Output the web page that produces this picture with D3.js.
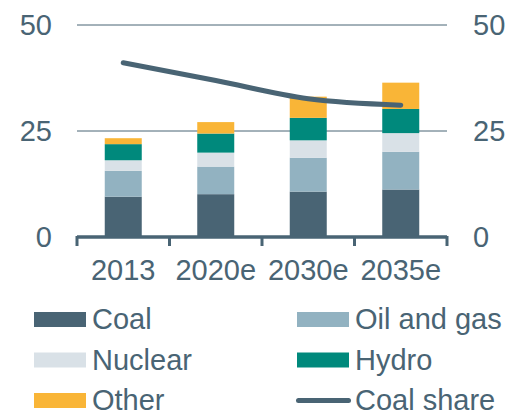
<!DOCTYPE html>
<html><head><meta charset="utf-8">
<script src="https://cdn.jsdelivr.net/npm/d3@7"></script>
<style>
html,body{margin:0;padding:0;background:#fff;}
svg{display:block;font-family:"Liberation Sans",Arial,sans-serif;}
</style></head>
<body>
<svg id="chart" width="505" height="414"></svg>
<script>
const categories = ["2013", "2020e", "2030e", "2035e"];
const coal = [9.5, 10.1, 10.7, 11.2];
const oilGas = [6.1, 6.5, 8.0, 8.9];
const nuclear = [2.5, 3.3, 4.1, 4.4];
const hydro = [3.8, 4.5, 5.3, 5.7];
const other = [1.4, 2.7, 5.0, 6.2];
const coalShare = [41.1, 36.9, 32.6, 31.1];
const yTicks = [0, 25, 50];
const seriesNames = ["Coal", "Oil and gas", "Nuclear", "Hydro", "Other"];

const colors = {"Coal":"#496474","Oil and gas":"#92b2c1","Nuclear":"#d9e1e7","Hydro":"#00897c","Other":"#f9b537"};
const dark = "#496474";

const svg = d3.select("#chart");
const x = d3.scaleBand().domain(categories).range([77, 447]).paddingInner(0.6).paddingOuter(0.3);
const y = d3.scaleLinear().domain([0, 50]).range([237, 25]);

const rows = categories.map((c, i) => ({cat: c, "Coal": coal[i], "Oil and gas": oilGas[i], "Nuclear": nuclear[i], "Hydro": hydro[i], "Other": other[i]}));
const stacked = d3.stack().keys(seriesNames)(rows);

// gridlines
svg.append("g").selectAll("line").data(yTicks.filter(t => t > 0)).join("line")
  .attr("x1", 77).attr("x2", 447).attr("y1", d => y(d)).attr("y2", d => y(d))
  .attr("stroke", dark).attr("stroke-width", 1);

// bars
svg.append("g").selectAll("g").data(stacked).join("g")
  .attr("fill", d => colors[d.key])
  .selectAll("rect").data(d => d).join("rect")
  .attr("x", d => x(d.data.cat)).attr("width", x.bandwidth())
  .attr("y", d => y(d[1])).attr("height", d => y(d[0]) - y(d[1]));

// x axis
const xAxis = svg.append("g");
xAxis.append("line").attr("x1", 77).attr("x2", 447).attr("y1", 237).attr("y2", 237)
  .attr("stroke", dark).attr("stroke-width", 3.5);
const tickX = [x.range()[0]].concat(categories.map(c => x(c) + x.bandwidth() + x.step() * x.paddingInner() / 2));
tickX[tickX.length - 1] = x.range()[1];
xAxis.selectAll("line.tk").data(tickX).join("line").attr("class", "tk")
  .attr("x1", d => d).attr("x2", d => d).attr("y1", 236).attr("y2", 246)
  .attr("stroke", dark).attr("stroke-width", 3);
xAxis.selectAll("text").data(categories).join("text")
  .attr("x", d => x(d) + x.bandwidth() / 2).attr("y", 280)
  .attr("text-anchor", "middle").attr("fill", dark).attr("font-size", 29).text(d => d);

// y labels
svg.append("g").selectAll("text").data(yTicks).join("text")
  .attr("x", 52).attr("y", d => y(d)).attr("dy", "0.36em").attr("text-anchor", "end")
  .attr("fill", dark).attr("font-size", 29).text(d => d);
svg.append("g").selectAll("text").data(yTicks).join("text")
  .attr("x", 473).attr("y", d => y(d)).attr("dy", "0.36em").attr("text-anchor", "start")
  .attr("fill", dark).attr("font-size", 29).text(d => d);

// line
const line = d3.line().x((d, i) => x(categories[i]) + x.bandwidth() / 2).y(d => y(d)).curve(d3.curveMonotoneX);
svg.append("path").datum(coalShare).attr("d", line).attr("fill", "none")
  .attr("stroke", dark).attr("stroke-width", 5).attr("stroke-linecap", "round");

// legend
const legendItems = [
  {name: "Coal", col: 0, row: 0}, {name: "Oil and gas", col: 1, row: 0},
  {name: "Nuclear", col: 0, row: 1}, {name: "Hydro", col: 1, row: 1},
  {name: "Other", col: 0, row: 2}, {name: "Coal share", col: 1, row: 2, line: true}
];
const lg = svg.append("g").selectAll("g").data(legendItems).join("g")
  .attr("transform", d => `translate(${d.col ? 297 : 34},${319.5 + d.row * 40.5})`);
lg.filter(d => !d.line).append("rect").attr("x", 0).attr("y", -7.5).attr("width", 52).attr("height", 15)
  .attr("fill", d => colors[d.name]);
lg.filter(d => d.line).append("line").attr("x1", 1.5).attr("x2", 51.5).attr("y1", 0).attr("y2", 0)
  .attr("stroke", dark).attr("stroke-width", 5).attr("stroke-linecap", "round");
lg.append("text").attr("x", 58).attr("y", 9.5).attr("fill", dark).attr("font-size", 29).text(d => d.name);
</script>
</body></html>
